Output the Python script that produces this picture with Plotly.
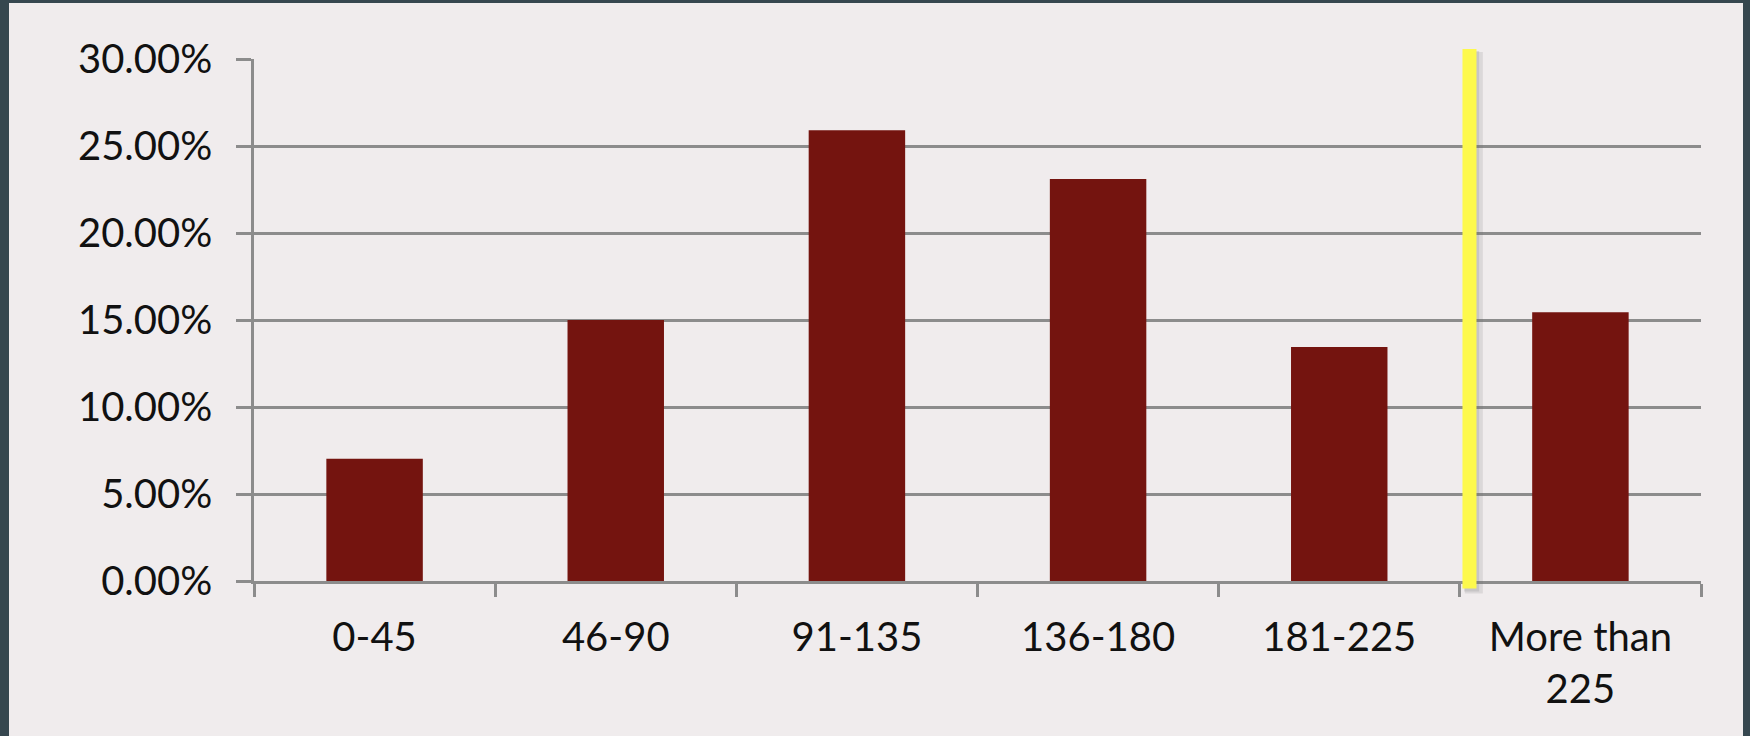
import plotly.graph_objects as go

categories = ["0-45", "46-90", "91-135", "136-180", "181-225", "More than<br>225"]
values = [0.0702, 0.150, 0.259, 0.231, 0.1345, 0.1545]
y_ticks = [0, 0.05, 0.10, 0.15, 0.20, 0.25, 0.30]
y_tick_labels = ["0.00%", "5.00%", "10.00%", "15.00%", "20.00%", "25.00%", "30.00%"]
marker_pos = 4.54  # category-axis position of the yellow highlight line

W, H = 1750, 736
L, R, T, B = 254, 49, 59, 154.5
pw, ph = W - L - R, H - T - B

def px_to_paper_x(px):
    return (px - L) / pw

def px_to_paper_y(py):
    return (H - B - py) / ph

def cat_to_paper_x(pos):
    return (pos + 0.5) / len(categories)

FRAME = "#36474f"
BG = "#f0eced"
GRID = "#8c8c8c"
BAR = "#74140f"

fig = go.Figure()
fig.add_trace(go.Bar(x=categories, y=values, marker=dict(color=BAR, line=dict(width=0)),
                     hoverinfo="skip"))

mx = cat_to_paper_x(marker_pos)
shapes = [
    dict(type="rect", xref="paper", yref="paper",
         x0=px_to_paper_x(9), x1=px_to_paper_x(1743),
         y0=px_to_paper_y(3), y1=px_to_paper_y(740),
         fillcolor=BG, line=dict(width=0), layer="below"),
    # soft shadow of the highlight line
    dict(type="line", xref="paper", yref="paper", x0=mx + 0.003, x1=mx + 0.003,
         y0=px_to_paper_y(52), y1=px_to_paper_y(594),
         line=dict(color="rgba(110,110,110,0.16)", width=18), layer="above"),
    dict(type="line", xref="paper", yref="paper", x0=mx + 0.0015, x1=mx + 0.0015,
         y0=px_to_paper_y(51), y1=px_to_paper_y(592),
         line=dict(color="rgba(110,110,110,0.18)", width=15), layer="above"),
    # yellow highlight line
    dict(type="line", xref="paper", yref="paper", x0=mx, x1=mx,
         y0=px_to_paper_y(49), y1=px_to_paper_y(589),
         line=dict(color="#fdf94c", width=14), layer="above"),
]

fig.update_layout(
    width=W, height=H,
    margin=dict(l=L, r=R, t=T, b=B, autoexpand=False),
    paper_bgcolor=FRAME,
    plot_bgcolor="rgba(0,0,0,0)",
    font=dict(family="Lato, 'Open Sans', sans-serif", size=40, color="#111111"),
    showlegend=False,
    bargap=0.6,
    shapes=shapes,
    xaxis=dict(
        type="category",
        showgrid=False,
        showline=True, linecolor=GRID, linewidth=2.5,
        ticks="outside", tickson="boundaries", ticklen=13, tickwidth=2.5, tickcolor=GRID,
        tickfont=dict(size=40, color="#111111"),
        ticklabelstandoff=19,
        zeroline=False,
    ),
    yaxis=dict(
        range=[0, 0.30],
        tickvals=y_ticks, ticktext=y_tick_labels,
        showgrid=True, gridcolor=GRID, gridwidth=2.5,
        showline=True, linecolor=GRID, linewidth=2.5,
        ticks="outside", ticklen=15, tickwidth=2.5, tickcolor=GRID,
        tickfont=dict(size=40, color="#111111"),
        ticklabelstandoff=16,
        zeroline=False,
    ),
)

fig.write_html("out.html")
